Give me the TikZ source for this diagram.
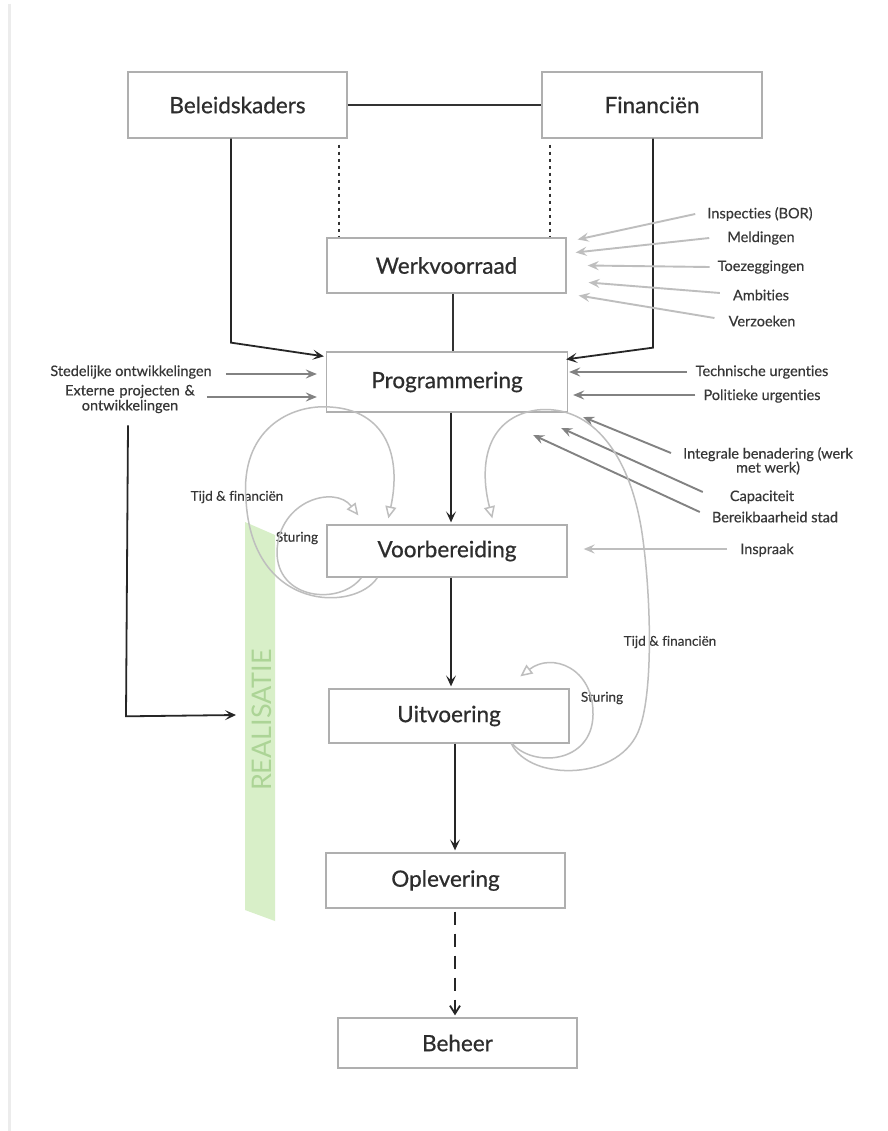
\documentclass[tikz,border=0pt]{standalone}
\usepackage{fontspec}
\setmainfont{Lato}[Ligatures=NoCommon]
\newfontfamily\boxfont{Lato}[Ligatures=NoCommon,FakeBold=0.6]
\newfontfamily\lblfont{Lato}[Ligatures=NoCommon,FakeBold=0.3]
\usetikzlibrary{arrows.meta,calc}
\definecolor{boxline}{RGB}{175,175,175}
\definecolor{boxtext}{RGB}{45,45,45}
\definecolor{lbltext}{RGB}{55,55,55}
\definecolor{lightarr}{RGB}{190,190,190}
\definecolor{midarr}{RGB}{130,130,130}
\definecolor{loopcol}{RGB}{190,190,190}
\definecolor{bandgreen}{RGB}{216,239,200}
\definecolor{realgreen}{RGB}{172,212,150}
\tikzset{
  procbox/.style={draw=boxline, line width=1.3pt, fill=white, text=boxtext,
    font=\boxfont\fontsize{22.5}{26}\selectfont, inner sep=0pt, anchor=center},
  lbl/.style={text=lbltext, font=\lblfont\fontsize{14.5}{16}\selectfont, align=center, inner sep=0pt},
  looplbl/.style={lbl, font=\lblfont\fontsize{13.5}{15}\selectfont},
  blackarrow/.style={draw=black!85, line width=1.8pt, -{Stealth[length=11pt,width=10pt,inset=5pt]}},
  blackline/.style={draw=black!80, line width=1.8pt},
  lightarrow/.style={draw=lightarr, line width=1.9pt, -{Stealth[length=11pt,width=9pt,inset=4pt]}},
  midarrow/.style={draw=midarr, line width=1.9pt, -{Stealth[length=11pt,width=9pt,inset=4pt]}},
  loopline/.style={draw=loopcol, line width=1.5pt, -{Triangle[open,length=12pt,width=11pt]}},
  dotline/.style={draw=black!80, line width=2.2pt, dash pattern=on 3pt off 4pt},
}
\begin{document}
\begin{tikzpicture}[x=1pt,y=-1pt]
\useasboundingbox (0,0) rectangle (887,1131);
\fill[white] (0,0) rectangle (887,1131);
\draw[gray!15, line width=3pt] (9,4) -- (9,1131);

% green band
\fill[bandgreen] (245,522) -- (275,535) -- (275,921) -- (245,910) -- cycle;
\node[text=realgreen, rotate=90, font=\fontsize{27}{30}\selectfont, inner sep=0pt] (real) at (262,720) {REALISATIE};

% boxes
\node[procbox, minimum width=219pt, minimum height=66pt] (bel) at (237.5,105) {Beleidskaders};
\node[procbox, minimum width=220pt, minimum height=66pt] (fin) at (652,105) {Financiën};
\node[procbox, minimum width=239pt, minimum height=55pt] (werk) at (446.5,265.5) {Werkvoorraad};
\node[procbox, minimum width=241pt, minimum height=60pt] (prog) at (447,382) {Programmering};
\node[procbox, minimum width=240pt, minimum height=52pt] (voor) at (447,551) {Voorbereiding};
\node[procbox, minimum width=240pt, minimum height=54pt] (uitv) at (449,716) {Uitvoering};
\node[procbox, minimum width=239pt, minimum height=55pt] (oplev) at (445.5,880.5) {Oplevering};
\node[procbox, minimum width=239pt, minimum height=50pt] (beheer) at (457.5,1043) {Beheer};

% top connections
\draw[blackline] (bel.east) -- (fin.west);
\draw[dotline] ($(bel.south east)+(-9,6)$) -- ($(bel.south east |- werk.north)+(-9,-1)$);
\draw[dotline] ($(fin.south west)+(9,6)$) -- ($(fin.south west |- werk.north)+(9,-1)$);
\draw[blackarrow] ($(bel.south)+(-6.5,0)$) -- ++(0,204) -- ($(prog.north west)+(-2,5)$);
\draw[blackarrow] ($(fin.south)+(1,0)$) -- ++(0,209) -- ($(prog.north east)+(-2,8)$);
\draw[blackline] ($(werk.south)+(6.5,0)$) -- ($(werk.south |- prog.north)+(6.5,0)$);

% main chain
\draw[blackarrow] ($(prog.south)+(4,0)$) -- ($(prog.south |- voor.north)+(4,-2)$);
\draw[blackarrow] ($(voor.south)+(4,0)$) -- ($(voor.south |- uitv.north)+(4,-2)$);
\draw[blackarrow] ($(uitv.south)+(6,0)$) -- ($(uitv.south |- oplev.north)+(6,-2)$);
\draw[black!85, line width=1.8pt, dash pattern=on 13pt off 9pt, -{Straight Barb[length=8pt,width=10pt]}] ($(oplev.south)+(9.5,3)$) -- ($(oplev.south |- beheer.north)+(9.5,-2)$);

% left labels
\node[lbl] (sted) at (131,372) {Stedelijke ontwikkelingen};
\node[lbl, text width=150pt] (ext) at (130,399) {Externe projecten \&\\[-1pt]ontwikkelingen};
\draw[midarrow] ($(sted.east)+(14,2)$) -- ($(prog.west)+(-9,-8)$);
\draw[midarrow] ($(prog.west)+(-119,15)$) -- ($(prog.west)+(-9,15)$);
\coordinate (realin) at (236,715);
\draw[black!85, line width=1.8pt, -{Stealth[length=11pt,width=10pt,inset=5pt]}] ($(ext.south)+(-2,12)$) -- ($(ext.south)+(-4,303)$) -- (realin);

% right labels: Werkvoorraad inputs
\node[lbl] (insp) at (760,214) {Inspecties (BOR)};
\node[lbl] (meld) at (761,238) {Meldingen};
\node[lbl] (toez) at (761,267) {Toezeggingen};
\node[lbl] (ambi) at (761,295) {Ambities};
\node[lbl] (verz) at (762,321) {Verzoeken};
\draw[lightarrow] ($(insp.west)+(-12,0)$) -- ($(werk.east)+(11,-26)$);
\draw[lightarrow] ($(meld.west)+(-18,0)$) -- ($(werk.east)+(9,-13)$);
\draw[lightarrow] ($(toez.west)+(-8,0)$) -- ($(werk.east)+(21,0)$);
\draw[lightarrow] ($(ambi.west)+(-13,-2)$) -- ($(werk.east)+(22,17)$);
\draw[lightarrow] ($(verz.west)+(-14,-3)$) -- ($(werk.east)+(12,30)$);

% right labels: Programmering inputs
\node[lbl] (tech) at (762,372) {Technische urgenties};
\node[lbl] (poli) at (762,396) {Politieke urgenties};
\node[lbl] (integ) at (768,461) {Integrale benadering (werk\\[-2pt]met werk)};
\node[lbl] (capa) at (762,497) {Capaciteit};
\node[lbl] (bere) at (775,517) {Bereikbaarheid stad};
\node[lbl] (inspr) at (767,550) {Inspraak};
\draw[midarrow] ($(tech.west)+(-9,0)$) -- ($(prog.east)+(1,-10)$);
\draw[midarrow] ($(poli.west)+(-8,-1)$) -- ($(prog.east)+(5,13)$);
\draw[midarrow] ($(integ.west)+(-12,-8)$) -- ($(prog.east)+(15,35)$);
\draw[midarrow] ($(capa.west)+(-27,-5)$) -- ($(prog.east)+(-7,46)$);
\draw[midarrow] ($(bere.west)+(-12,-5)$) -- ($(prog.east)+(-35,53)$);
\draw[lightarrow] ($(inspr.west)+(-13,-1)$) -- ($(voor.east)+(16,-2)$);

% feedback loops
\node[looplbl] (tf1) at (237,497) {Tijd \& financiën};
\node[looplbl] (st1) at (297,538) {Sturing};
\node[looplbl] (tf2) at (670,642) {Tijd \& financiën};
\node[looplbl] (st2) at (602,698) {Sturing};

\draw[loopline] ($(voor.south west)+(51,0)$) .. controls (355,612) and (252,612) .. (246,500)
  .. controls (240,430) and (290,404) .. (330,407) .. controls (385,410) and (402,455) .. ($(voor.north west)+(62,-6)$);
\draw[loopline] ($(voor.south west)+(35,0)$) .. controls (340,606) and (276,600) .. (277,551)
  .. controls (279,500) and (335,485) .. ($(voor.north west)+(32,-9)$);
\draw[loopline] ($(uitv.south west)+(183,0)$) .. controls (530,782) and (622,782) .. (640,727)
  .. controls (653,690) and (651,600) .. (643,540) .. controls (632,455) and (592,404) .. (537,410)
  .. controls (488,417) and (478,462) .. ($(voor.north west)+(166,-6)$);
\draw[loopline] ($(uitv.south west)+(183,-1)$) .. controls (532,768) and (592,764) .. (593,715)
  .. controls (594,668) and (552,652) .. ($(uitv.north west)+(192,-12)$);
\end{tikzpicture}
\end{document}
